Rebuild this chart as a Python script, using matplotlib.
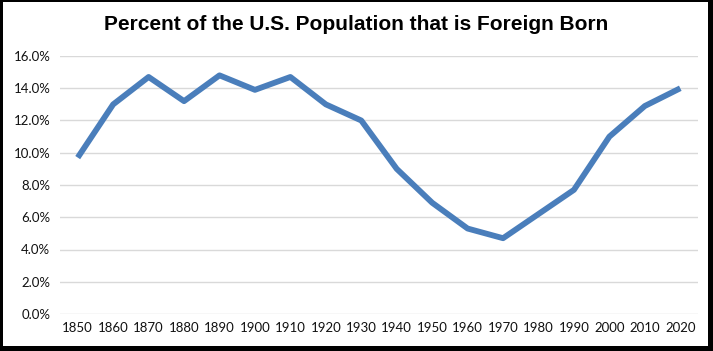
import matplotlib
matplotlib.use('agg')
import matplotlib.pyplot as plt
from matplotlib.patches import Rectangle

years = ['1850', '1860', '1870', '1880', '1890', '1900', '1910', '1920', '1930',
         '1940', '1950', '1960', '1970', '1980', '1990', '2000', '2010', '2020']
pct = [9.7, 13.0, 14.7, 13.2, 14.8, 13.9, 14.7, 13.0, 12.0,
       9.0, 6.9, 5.3, 4.7, 6.2, 7.7, 11.0, 12.9, 14.0]
yticks = [0, 2, 4, 6, 8, 10, 12, 14, 16]

fig = plt.figure(figsize=(7.13, 3.51), dpi=100)
ax = fig.add_axes([60/713, 1-314/351, (698-60)/713, (314-56)/351])

x = list(range(len(years)))
ax.plot(x, pct, color='#4A7EBB', linewidth=4.2, solid_capstyle='butt', solid_joinstyle='round')

ax.set_xlim(-0.5, len(years)-0.5)
ax.set_ylim(0, 16)
ax.set_yticks(yticks)
ax.set_yticklabels([f'{v:.1f}%' for v in yticks], fontfamily='Lato', fontsize=9.5, color='#111111')
ax.set_xticks(x)
ax.set_xticklabels(years, fontfamily='Lato', fontsize=9.5, color='#111111')
ax.tick_params(length=0, pad=6)
ax.tick_params(axis='y', pad=7)
ax.grid(axis='y', color='#D9D9D9', linewidth=1)
ax.set_axisbelow(True)
for s in ax.spines.values():
    s.set_visible(False)

fig.text(0.5, 1-25/351, 'Percent of the U.S. Population that is Foreign Born',
         ha='center', va='center', fontfamily='Liberation Sans', fontweight='heavy', fontsize=15)

# black frame, thicker on the right and bottom
W, H = 713, 351
frame = [(0, 0, W, 5), (0, H-2, W, 2), (0, 0, 3, H), (W-5, 0, 5, H)]
for (fx, fy, fw, fh) in frame:
    fig.patches.append(Rectangle((fx/W, fy/H), fw/W, fh/H, transform=fig.transFigure,
                                 facecolor='black', edgecolor='none'))

fig.savefig('out.png', dpi=100)
